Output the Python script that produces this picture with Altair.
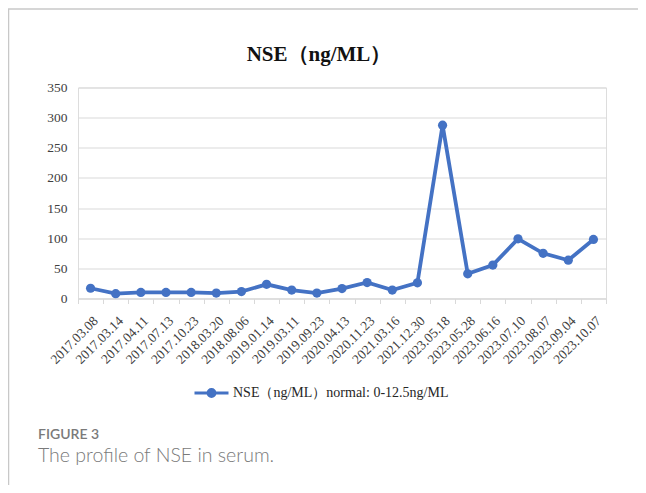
import altair as alt
import pandas as pd

dates = ["2017.03.08", "2017.03.14", "2017.04.11", "2017.07.13", "2017.10.23",
         "2018.03.20", "2018.08.06", "2019.01.14", "2019.03.11", "2019.09.23",
         "2020.04.13", "2020.11.23", "2021.03.16", "2021.12.30", "2023.05.18",
         "2023.05.28", "2023.06.16", "2023.07.10", "2023.08.07", "2023.09.04",
         "2023.10.07"]
nse = [17, 8, 10, 10, 10, 9, 11.5, 23.5, 14, 9, 16.5, 26.5, 14, 26, 287.5,
       41, 55.5, 99, 75, 63.5, 98]
series_name = "NSE（ng/ML）normal: 0-12.5ng/ML"
y_ticks = [0, 50, 100, 150, 200, 250, 300, 350]
chart_title = "NSE（ng/ML）"
caption_label = "FIGURE 3"
caption_text = "The profile of NSE in serum."

df = pd.DataFrame({"date": dates, "value": nse, "series": [series_name] * len(dates)})

BLUE = "#4472C4"
SERIF = "Liberation Serif"

x_enc = alt.X("date:N", sort=dates, bandPosition=0.5,
              scale=alt.Scale(type="band", paddingInner=0, paddingOuter=0),
              axis=alt.Axis(title=None, labelAngle=-45, labelFont=SERIF, labelFontSize=13.5,
                            labelColor="#404040", domainColor="#d9d9d9", tickColor="#d9d9d9",
                            tickSize=5, tickBand="extent", labelPadding=10, grid=False,
                            labelAlign="right", labelBaseline="top"))
y_enc = alt.Y("value:Q", scale=alt.Scale(domain=[0, 350]),
              axis=alt.Axis(title=None, values=y_ticks, labelFont=SERIF, labelFontSize=13.5,
                            labelColor="#404040", domain=False, ticks=False, labelPadding=11,
                            gridColor="#d9d9d9", gridWidth=1))
color_enc = alt.Color("series:N", scale=alt.Scale(range=[BLUE]),
                      legend=alt.Legend(title=None, orient="none", legendX=115, legendY=287,
                                        padding=0,
                                        symbolType="M-1,0L1,0M-0.2,0A0.2,0.2,0,1,1,0.2,0A0.2,0.2,0,1,1,-0.2,0Z",
                                        symbolSize=1156, symbolStrokeWidth=3,
                                        symbolFillColor=BLUE, symbolStrokeColor=BLUE,
                                        labelFont=SERIF, labelFontSize=14, labelColor="#262626",
                                        labelOffset=3, labelLimit=400))

base = alt.Chart(df)
line = base.mark_line(strokeWidth=3.8).encode(x=x_enc, y=y_enc, color=color_enc)
pts = base.mark_point(filled=True, size=85, opacity=1).encode(x=x_enc, y=y_enc, color=color_enc)

one = pd.DataFrame({"k": [0]})
top_border = alt.Chart(one).mark_rule(color="#c8c8c8", strokeWidth=1.5).encode(
    x=alt.value(-70), x2=alt.value(570), y=alt.value(-78.5))
left_border = alt.Chart(one).mark_rule(color="#c8c8c8", strokeWidth=1.5).encode(
    x=alt.value(-69.5), y=alt.value(-78.5), y2=alt.value(400))

title_mark = alt.Chart(pd.DataFrame({"t": [chart_title]})).mark_text(
    font=SERIF, fontSize=21, fontWeight="bold", color="#111111", align="center",
    baseline="alphabetic"
).encode(text="t:N", x=alt.value(241), y=alt.value(-27))
cap1 = alt.Chart(pd.DataFrame({"t": [caption_label]})).mark_text(
    font="Lato", fontSize=14, fontWeight=600, color="#7a7a7a", align="left", baseline="alphabetic"
).encode(text="t:N", x=alt.value(-40), y=alt.value(351.5))
cap2 = alt.Chart(pd.DataFrame({"t": [caption_text]})).mark_text(
    font="Lato", fontSize=19.5, fontWeight=300, color="#7a7a7a", align="left",
    baseline="alphabetic"
).encode(text="t:N", x=alt.value(-40), y=alt.value(374))

chart = alt.layer(top_border, left_border, line, pts, title_mark, cap1, cap2).properties(
    width=528, height=211,
    autosize=alt.AutoSizeParams(type="none"),
    padding={"left": 70, "top": 79.5, "right": 32, "bottom": 186.5},
).configure_view(stroke=None).configure(background="white")

chart.save("out.html", embed_options={"renderer": "svg", "actions": False})
